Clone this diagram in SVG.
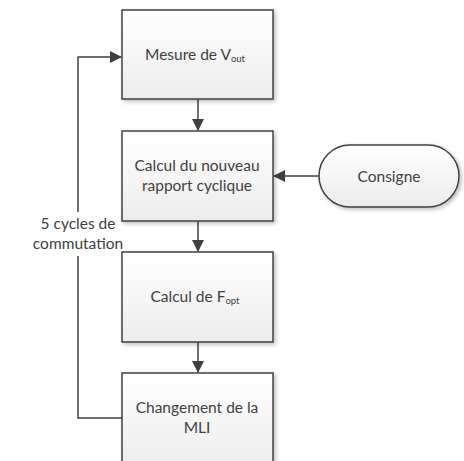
<svg xmlns="http://www.w3.org/2000/svg" width="464" height="461" viewBox="0 0 464 461">
<defs>
<linearGradient id="g" x1="0" y1="0" x2="0" y2="1">
<stop offset="0" stop-color="#ffffff"/>
<stop offset="1" stop-color="#ececec"/>
</linearGradient>
<filter id="sh" x="-10%" y="-10%" width="130%" height="130%">
<feGaussianBlur in="SourceAlpha" stdDeviation="2"/>
<feOffset dx="2" dy="2"/>
<feComponentTransfer><feFuncA type="linear" slope="0.25"/></feComponentTransfer>
<feMerge><feMergeNode/><feMergeNode in="SourceGraphic"/></feMerge>
</filter>
<marker id="ah" markerWidth="12" markerHeight="12" viewBox="0 0 12 12" refX="11" refY="6" orient="auto" markerUnits="userSpaceOnUse">
<path d="M0,0 L12,6 L0,12 Z" fill="#404040"/>
</marker>
</defs>
<style>
.box{fill:url(#g);stroke:#404040;stroke-width:1.5;filter:url(#sh)}
.t{font-family:Lato,"Open Sans",sans-serif;font-size:15.5px;fill:#404040;text-anchor:middle}
.s{font-size:9.5px}
.c{fill:none;stroke:#404040;stroke-width:1.5}
</style>
<rect width="464" height="461" fill="#fff"/>
<g id="connectors">
<line class="c" x1="198" y1="99" x2="198" y2="130" marker-end="url(#ah)"/>
<line class="c" x1="198" y1="221" x2="198" y2="251" marker-end="url(#ah)"/>
<line class="c" x1="198" y1="342" x2="198" y2="372" marker-end="url(#ah)"/>
<line class="c" x1="319" y1="176" x2="274" y2="176" marker-end="url(#ah)"/>
<polyline class="c" points="122,418 78,418 78,256"/>
<polyline class="c" points="78,212 78,57 121,57" marker-end="url(#ah)"/>
<text class="t" x="78" y="229">5 cycles de</text>
<text class="t" x="78" y="249">commutation</text>
</g>
<g id="n1">
<rect class="box" x="122" y="10" width="151" height="89"/>
<text class="t" x="195" y="60">Mesure de V<tspan class="s" dy="2">out</tspan></text>
</g>
<g id="n2">
<rect class="box" x="122" y="131" width="151" height="90"/>
<text class="t" x="197" y="171">Calcul du nouveau</text>
<text class="t" x="197" y="191">rapport cyclique</text>
</g>
<g id="n3">
<rect class="box" x="122" y="252" width="151" height="90"/>
<text class="t" x="195" y="302">Calcul de F<tspan class="s" dy="2">opt</tspan></text>
</g>
<g id="n4">
<rect class="box" x="122" y="373" width="151" height="95"/>
<text class="t" x="197" y="413">Changement de la</text>
<text class="t" x="197" y="433">MLI</text>
</g>
<g id="consigne">
<rect class="box" x="319" y="145" width="140" height="62" rx="31" ry="31"/>
<text class="t" x="389" y="182">Consigne</text>
</g>
</svg>
